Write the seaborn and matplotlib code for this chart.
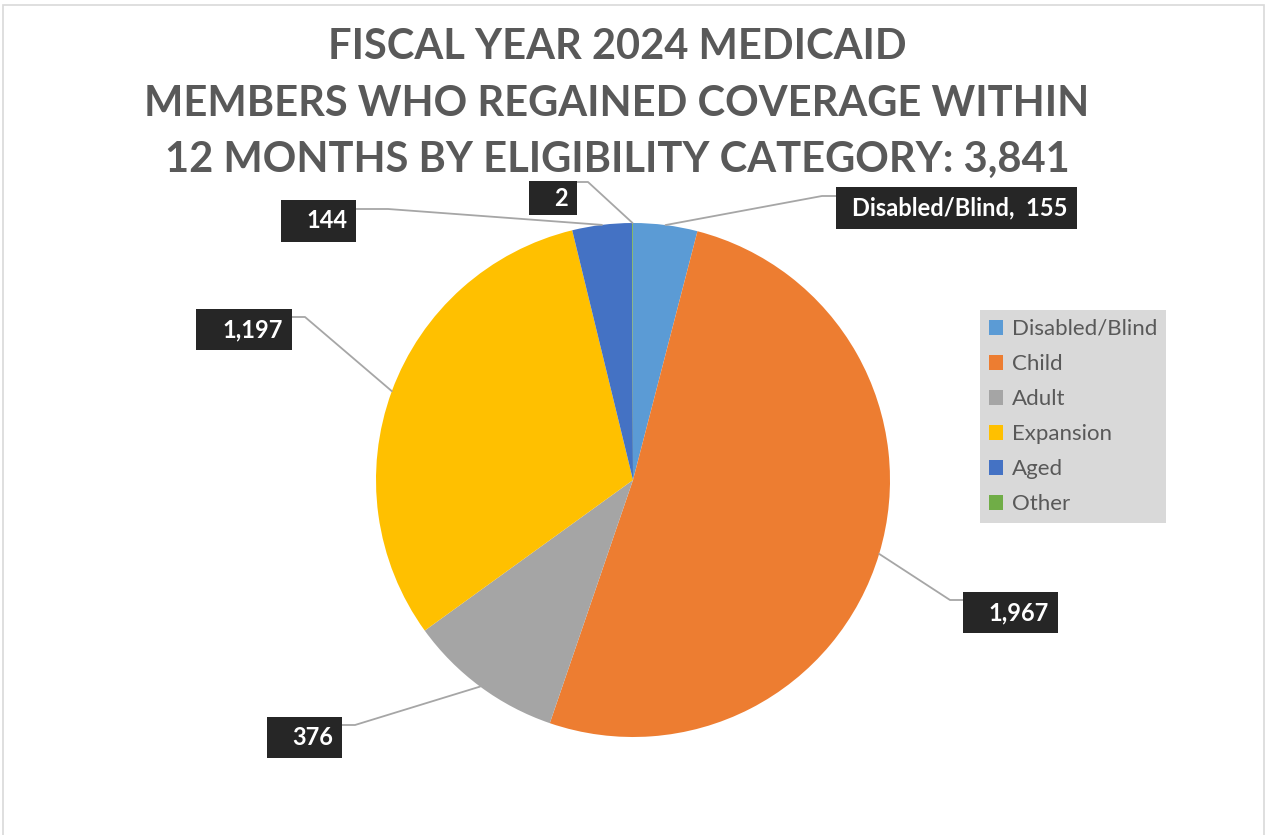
import matplotlib.pyplot as plt
import numpy as np
import seaborn as sns
from matplotlib.patches import Rectangle

# Data
categories = ["Disabled/Blind", "Child", "Adult", "Expansion", "Aged", "Other"]
members = [155, 1967, 376, 1197, 144, 2]
colors = ["#5B9BD5", "#ED7D31", "#A5A5A5", "#FFC000", "#4472C4", "#70AD47"]
title_lines = ["FISCAL YEAR 2024 MEDICAID",
               "MEMBERS WHO REGAINED COVERAGE WITHIN",
               "12 MONTHS BY ELIGIBILITY CATEGORY: 3,841"]

sns.set_theme(style="white")
plt.rcParams['font.family'] = ['Lato', 'DejaVu Sans']

W, H = 1267, 835
fig = plt.figure(figsize=(W / 100, H / 100), dpi=100)
ax = fig.add_axes([0, 0, 1, 1])

# pie in pixel-like data coords (y up)
cx, cy, r = 633, H - 480, 257
wedges, _ = ax.pie(members, colors=colors, startangle=90, counterclock=False,
                   center=(cx, cy), radius=r, wedgeprops=dict(linewidth=0))
ax.set_xlim(0, W)
ax.set_ylim(0, H)
ax.set_aspect('auto')
ax.axis('off')

# outer frame
fig.patches.append(Rectangle((3, -10), W - 6, H - 5 + 10, transform=None,
                             fill=False, edgecolor="#d9d9d9", linewidth=1.2))

# title
for i, line in enumerate(title_lines):
    ax.text(617, H - (47 + 56.5 * i), line, ha='center', va='center',
            fontsize=30, fontweight='bold', color='#595959')

# data label boxes: (left, top, right, bottom, elbow_x, elbow_y) in pixels from top
label_layout = [
    (836, 187, 1077, 229, 822, 196),   # Disabled/Blind
    (963, 592, 1058, 633, 950, 600),   # Child
    (267, 717, 342, 758, 355, 725),    # Adult
    (196, 309, 292, 350, 305, 317),    # Expansion
    (281, 200, 356, 242, 388, 209),    # Aged
    (529, 181, 577, 215, 588, 182),    # Other
]

total = sum(members)
cum = np.cumsum([0] + members[:-1])
for i, (val, lay) in enumerate(zip(members, label_layout)):
    left, top, right, bottom, ex, ey = lay
    frac = (cum[i] + val / 2) / total
    ang = np.deg2rad(90 - 360 * frac)
    px, py = cx + r * np.cos(ang), cy + r * np.sin(ang)
    attach_x = left if ex < left else right
    ax.plot([px, ex, attach_x], [py, H - ey, H - ey], color='#a6a6a6', lw=1.3, zorder=1)
    ax.add_patch(Rectangle((left, H - bottom), right - left, bottom - top,
                           facecolor='#262626', edgecolor='none', zorder=3))
    txt = f"{val:,}"
    if i == 0:
        txt = f"{categories[i]},  {val:,}"
    ax.text(right - 9, H - (top + bottom) / 2, txt, ha='right', va='center',
            fontsize=17, fontweight='bold', color='white', zorder=4)

# legend
leg = fig.legend(wedges, categories, loc='upper left',
                 bbox_to_anchor=(980 / W, 1 - 310 / H), frameon=True,
                 fancybox=False, facecolor='#d9d9d9', edgecolor='none',
                 fontsize=16, labelcolor='#595959', handlelength=0.65,
                 handleheight=0.65, handletextpad=0.4, labelspacing=0.68,
                 borderpad=0.4, borderaxespad=0)
leg.get_frame().set_alpha(1)

plt.savefig('out.png', dpi=100)
